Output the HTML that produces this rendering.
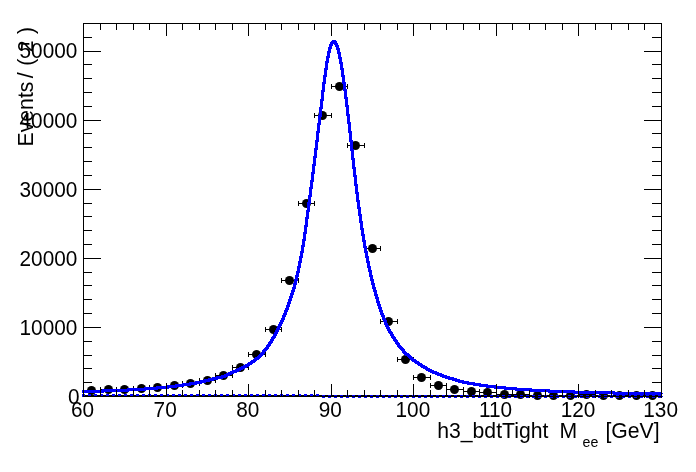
<!DOCTYPE html>
<html lang="en"><head><meta charset="utf-8"><title>h3_bdtTight Mee fit</title>
<style>html,body{margin:0;padding:0;background:#fff;}body{width:696px;height:472px;overflow:hidden;}svg{display:block;}</style>
</head><body>
<svg width="696" height="472" viewBox="0 0 696 472">
<rect width="696" height="472" fill="#fff"/>
<path d="M83.0,395.5H662.0" stroke="#000" stroke-width="1" fill="none" shape-rendering="crispEdges"/>
<g stroke="#000" stroke-width="1" shape-rendering="crispEdges" fill="none"><path d="M83.5,390.5H100.5M83.5,388.0V393.0M100.5,388.0V393.0"/><path d="M100.5,389.5H116.5M100.5,387.0V392.0M116.5,387.0V392.0"/><path d="M116.5,389.5H133.5M116.5,387.0V392.0M133.5,387.0V392.0"/><path d="M133.5,388.5H149.5M133.5,386.0V391.0M149.5,386.0V391.0"/><path d="M149.5,387.5H166.5M149.5,385.0V390.0M166.5,385.0V390.0"/><path d="M166.5,385.5H182.5M166.5,383.0V388.0M182.5,383.0V388.0"/><path d="M182.5,383.5H199.5M182.5,381.0V386.0M199.5,381.0V386.0"/><path d="M199.5,380.5H215.5M199.5,378.0V383.0M215.5,378.0V383.0"/><path d="M215.5,375.5H232.5M215.5,373.0V378.0M232.5,373.0V378.0"/><path d="M232.5,367.5H248.5M232.5,365.0V370.0M248.5,365.0V370.0"/><path d="M248.5,354.5H265.5M248.5,352.0V357.0M265.5,352.0V357.0"/><path d="M265.5,329.5H281.5M265.5,327.0V332.0M281.5,327.0V332.0"/><path d="M281.5,280.5H298.5M281.5,278.0V283.0M298.5,278.0V283.0"/><path d="M298.5,203.5H314.5M298.5,201.0V206.0M314.5,201.0V206.0"/><path d="M314.5,115.5H331.5M314.5,113.0V118.0M331.5,113.0V118.0"/><path d="M331.5,86.5H347.5M331.5,84.0V89.0M347.5,84.0V89.0"/><path d="M347.5,145.5H364.5M347.5,143.0V148.0M364.5,143.0V148.0"/><path d="M364.5,248.5H380.5M364.5,246.0V251.0M380.5,246.0V251.0"/><path d="M380.5,321.5H397.5M380.5,319.0V324.0M397.5,319.0V324.0"/><path d="M397.5,359.5H413.5M397.5,357.0V362.0M413.5,357.0V362.0"/><path d="M413.5,377.5H430.5M413.5,375.0V380.0M430.5,375.0V380.0"/><path d="M430.5,385.5H446.5M430.5,383.0V388.0M446.5,383.0V388.0"/><path d="M446.5,389.5H463.5M446.5,387.0V392.0M463.5,387.0V392.0"/><path d="M463.5,391.5H479.5M463.5,389.0V394.0M479.5,389.0V394.0"/><path d="M479.5,392.5H496.5M479.5,390.0V395.0M496.5,390.0V395.0"/><path d="M496.5,394.5H512.5M496.5,392.0V397.0M512.5,392.0V397.0"/><path d="M512.5,394.5H529.5M512.5,392.0V397.0M529.5,392.0V397.0"/><path d="M529.5,395.5H545.5M529.5,393.0V398.0M545.5,393.0V398.0"/><path d="M545.5,395.5H562.5M545.5,393.0V398.0M562.5,393.0V398.0"/><path d="M562.5,395.5H578.5M562.5,393.0V398.0M578.5,393.0V398.0"/><path d="M578.5,394.5H595.5M578.5,392.0V397.0M595.5,392.0V397.0"/><path d="M595.5,395.5H611.5M595.5,393.0V398.0M611.5,393.0V398.0"/><path d="M611.5,395.5H628.5M611.5,393.0V398.0M628.5,393.0V398.0"/><path d="M628.5,395.5H644.5M628.5,393.0V398.0M644.5,393.0V398.0"/><path d="M644.5,395.5H661.5M644.5,393.0V398.0M661.5,393.0V398.0"/></g>
<g fill="#000"><circle cx="91.5" cy="390.5" r="4.5"/><circle cx="108.5" cy="389.5" r="4.5"/><circle cx="124.5" cy="389.5" r="4.5"/><circle cx="141.5" cy="388.5" r="4.5"/><circle cx="157.5" cy="387.5" r="4.5"/><circle cx="174.5" cy="385.5" r="4.5"/><circle cx="190.5" cy="383.5" r="4.5"/><circle cx="207.5" cy="380.5" r="4.5"/><circle cx="223.5" cy="375.5" r="4.5"/><circle cx="240.5" cy="367.5" r="4.5"/><circle cx="256.5" cy="354.5" r="4.5"/><circle cx="273.5" cy="329.5" r="4.5"/><circle cx="289.5" cy="280.5" r="4.5"/><circle cx="306.5" cy="203.5" r="4.5"/><circle cx="322.5" cy="115.5" r="4.5"/><circle cx="339.5" cy="86.5" r="4.5"/><circle cx="355.5" cy="145.5" r="4.5"/><circle cx="372.5" cy="248.5" r="4.5"/><circle cx="388.5" cy="321.5" r="4.5"/><circle cx="405.5" cy="359.5" r="4.5"/><circle cx="421.5" cy="377.5" r="4.5"/><circle cx="438.5" cy="385.5" r="4.5"/><circle cx="454.5" cy="389.5" r="4.5"/><circle cx="471.5" cy="391.5" r="4.5"/><circle cx="487.5" cy="392.5" r="4.5"/><circle cx="504.5" cy="394.5" r="4.5"/><circle cx="520.5" cy="394.5" r="4.5"/><circle cx="537.5" cy="395.5" r="4.5"/><circle cx="553.5" cy="395.5" r="4.5"/><circle cx="570.5" cy="395.5" r="4.5"/><circle cx="586.5" cy="394.5" r="4.5"/><circle cx="603.5" cy="395.5" r="4.5"/><circle cx="619.5" cy="395.5" r="4.5"/><circle cx="636.5" cy="395.5" r="4.5"/><circle cx="652.5" cy="395.5" r="4.5"/></g>
<path d="M82,394h3v3h-3zM88,394h3v3h-3zM94,394h3v3h-3zM100,394h3v3h-3zM106,394h3v3h-3zM112,394h3v3h-3zM118,394h3v3h-3zM124,394h3v3h-3zM130,394h3v3h-3zM136,394h3v3h-3zM142,394h3v3h-3zM148,394h3v3h-3zM154,394h3v3h-3zM160,394h3v3h-3zM166,394h3v3h-3zM172,394h3v3h-3zM178,394h3v3h-3zM184,394h3v3h-3zM190,394h3v3h-3zM196,394h3v3h-3zM202,394h3v3h-3zM208,394h3v3h-3zM214,394h3v3h-3zM220,394h3v3h-3zM226,394h3v3h-3zM232,394h3v3h-3zM238,394h3v3h-3zM244,394h3v3h-3zM250,394h3v3h-3zM256,394h3v3h-3zM262,394h3v3h-3zM268,394h3v3h-3zM274,394h3v3h-3zM280,394h3v3h-3zM286,394h3v3h-3zM292,394h3v3h-3zM298,394h3v3h-3zM304,394h3v3h-3zM310,394h3v3h-3zM316,394h3v3h-3zM322,395h3v3h-3zM328,395h3v3h-3zM334,395h3v3h-3zM340,395h3v3h-3zM346,395h3v3h-3zM352,395h3v3h-3zM358,395h3v3h-3zM364,395h3v3h-3zM370,395h3v3h-3zM376,395h3v3h-3zM382,395h3v3h-3zM388,395h3v3h-3zM394,395h3v3h-3zM400,395h3v3h-3zM406,395h3v3h-3zM412,395h3v3h-3zM418,395h3v3h-3zM424,395h3v3h-3zM430,395h3v3h-3zM436,395h3v3h-3zM442,395h3v3h-3zM448,395h3v3h-3zM454,395h3v3h-3zM460,395h3v3h-3zM466,395h3v3h-3zM472,395h3v3h-3zM478,395h3v3h-3zM484,395h3v3h-3zM490,395h3v3h-3zM496,395h3v3h-3zM502,395h3v3h-3zM508,395h3v3h-3zM514,395h3v3h-3zM520,395h3v3h-3zM526,395h3v3h-3zM532,395h3v3h-3zM538,395h3v3h-3zM544,395h3v3h-3zM550,395h3v3h-3zM556,395h3v3h-3zM562,395h3v3h-3zM568,395h3v3h-3zM574,395h3v3h-3zM580,395h3v3h-3zM586,395h3v3h-3zM592,395h3v3h-3zM598,395h3v3h-3zM604,395h3v3h-3zM610,395h3v3h-3zM616,395h3v3h-3zM622,395h3v3h-3zM628,395h3v3h-3zM634,395h3v3h-3zM640,395h3v3h-3zM646,395h3v3h-3zM652,395h3v3h-3zM658,395h3v3h-3zM662,396h1v1h-1z" fill="#0000ff" shape-rendering="crispEdges"/>
<path d="M82,390h1v3h-1zM83,390h1v3h-1zM84,390h1v3h-1zM85,390h1v3h-1zM86,390h1v3h-1zM87,390h1v3h-1zM88,390h1v3h-1zM89,390h1v3h-1zM90,390h1v3h-1zM91,390h1v3h-1zM92,390h1v3h-1zM93,390h1v3h-1zM94,390h1v3h-1zM95,390h1v3h-1zM96,390h1v3h-1zM97,390h1v3h-1zM98,390h1v3h-1zM99,390h1v3h-1zM100,390h1v3h-1zM101,390h1v3h-1zM102,389h1v4h-1zM103,389h1v4h-1zM104,389h1v3h-1zM105,389h1v3h-1zM106,389h1v3h-1zM107,389h1v3h-1zM108,389h1v3h-1zM109,389h1v3h-1zM110,389h1v3h-1zM111,389h1v3h-1zM112,389h1v3h-1zM113,389h1v3h-1zM114,389h1v3h-1zM115,389h1v3h-1zM116,389h1v3h-1zM117,389h1v3h-1zM118,389h1v3h-1zM119,389h1v3h-1zM120,389h1v3h-1zM121,389h1v3h-1zM122,389h1v3h-1zM123,389h1v3h-1zM124,389h1v3h-1zM125,389h1v3h-1zM126,389h1v3h-1zM127,388h1v4h-1zM128,388h1v4h-1zM129,388h1v3h-1zM130,388h1v3h-1zM131,388h1v3h-1zM132,388h1v3h-1zM133,388h1v3h-1zM134,388h1v3h-1zM135,388h1v3h-1zM136,388h1v3h-1zM137,388h1v3h-1zM138,388h1v3h-1zM139,388h1v3h-1zM140,388h1v3h-1zM141,388h1v3h-1zM142,388h1v3h-1zM143,388h1v3h-1zM144,387h1v4h-1zM145,387h1v4h-1zM146,387h1v3h-1zM147,387h1v3h-1zM148,387h1v3h-1zM149,387h1v3h-1zM150,387h1v3h-1zM151,387h1v3h-1zM152,387h1v3h-1zM153,387h1v3h-1zM154,387h1v3h-1zM155,387h1v3h-1zM156,386h1v4h-1zM157,386h1v4h-1zM158,386h1v3h-1zM159,386h1v3h-1zM160,386h1v3h-1zM161,386h1v3h-1zM162,386h1v3h-1zM163,386h1v3h-1zM164,386h1v3h-1zM165,386h1v3h-1zM166,386h1v3h-1zM167,385h1v4h-1zM168,385h1v4h-1zM169,385h1v3h-1zM170,385h1v3h-1zM171,385h1v3h-1zM172,385h1v3h-1zM173,385h1v3h-1zM174,385h1v3h-1zM175,384h1v4h-1zM176,384h1v4h-1zM177,384h1v3h-1zM178,384h1v3h-1zM179,384h1v3h-1zM180,384h1v3h-1zM181,384h1v3h-1zM182,383h1v4h-1zM183,383h1v4h-1zM184,383h1v3h-1zM185,383h1v3h-1zM186,383h1v3h-1zM187,383h1v3h-1zM188,383h1v3h-1zM189,382h1v4h-1zM190,382h1v4h-1zM191,382h1v3h-1zM192,382h1v3h-1zM193,382h1v3h-1zM194,382h1v3h-1zM195,381h1v4h-1zM196,381h1v4h-1zM197,381h1v3h-1zM198,381h1v3h-1zM199,381h1v3h-1zM200,380h1v4h-1zM201,380h1v4h-1zM202,380h1v3h-1zM203,380h1v3h-1zM204,379h1v4h-1zM205,379h1v4h-1zM206,379h1v3h-1zM207,379h1v3h-1zM208,378h1v4h-1zM209,378h1v4h-1zM210,378h1v3h-1zM211,378h1v3h-1zM212,377h1v4h-1zM213,377h1v4h-1zM214,377h1v3h-1zM215,377h1v3h-1zM216,376h1v4h-1zM217,376h1v4h-1zM218,376h1v3h-1zM219,376h1v3h-1zM220,376h1v3h-1zM221,375h1v4h-1zM222,375h1v4h-1zM223,375h1v3h-1zM224,374h1v4h-1zM225,374h1v4h-1zM226,373h1v4h-1zM227,373h1v4h-1zM228,372h1v4h-1zM229,372h1v4h-1zM230,371h1v4h-1zM231,371h1v4h-1zM232,370h1v4h-1zM233,370h1v4h-1zM234,370h1v3h-1zM235,369h1v4h-1zM236,369h1v4h-1zM237,368h1v4h-1zM238,368h1v4h-1zM239,367h1v4h-1zM240,367h1v4h-1zM241,366h1v4h-1zM242,366h1v4h-1zM243,365h1v4h-1zM244,365h1v4h-1zM245,364h1v4h-1zM246,364h1v4h-1zM247,363h1v4h-1zM248,362h1v5h-1zM249,362h1v4h-1zM250,361h1v4h-1zM251,360h1v5h-1zM252,360h1v4h-1zM253,359h1v4h-1zM254,358h1v5h-1zM255,357h1v5h-1zM256,357h1v4h-1zM257,356h1v4h-1zM258,355h1v5h-1zM259,354h1v5h-1zM260,353h1v5h-1zM261,352h1v5h-1zM262,350h1v6h-1zM263,349h1v6h-1zM264,348h1v6h-1zM265,347h1v5h-1zM266,345h1v6h-1zM267,344h1v6h-1zM268,342h1v7h-1zM269,341h1v6h-1zM270,339h1v7h-1zM271,337h1v7h-1zM272,336h1v7h-1zM273,334h1v7h-1zM274,332h1v7h-1zM275,330h1v8h-1zM276,328h1v8h-1zM277,326h1v8h-1zM278,324h1v8h-1zM279,322h1v8h-1zM280,320h1v8h-1zM281,318h1v8h-1zM282,315h1v9h-1zM283,313h1v9h-1zM284,310h1v10h-1zM285,308h1v9h-1zM286,305h1v10h-1zM287,302h1v10h-1zM288,299h1v11h-1zM289,296h1v11h-1zM290,293h1v11h-1zM291,290h1v11h-1zM292,287h1v11h-1zM293,283h1v12h-1zM294,279h1v13h-1zM295,275h1v14h-1zM296,271h1v14h-1zM297,266h1v15h-1zM298,261h1v16h-1zM299,256h1v17h-1zM300,251h1v17h-1zM301,245h1v18h-1zM302,239h1v19h-1zM303,232h1v21h-1zM304,225h1v22h-1zM305,217h1v24h-1zM306,210h1v24h-1zM307,202h1v25h-1zM308,195h1v24h-1zM309,187h1v25h-1zM310,180h1v24h-1zM311,172h1v25h-1zM312,164h1v25h-1zM313,156h1v26h-1zM314,148h1v26h-1zM315,140h1v26h-1zM316,131h1v27h-1zM317,123h1v27h-1zM318,115h1v27h-1zM319,107h1v26h-1zM320,99h1v26h-1zM321,90h1v27h-1zM322,82h1v27h-1zM323,75h1v26h-1zM324,68h1v24h-1zM325,61h1v23h-1zM326,56h1v21h-1zM327,51h1v19h-1zM328,47h1v16h-1zM329,44h1v14h-1zM330,42h1v11h-1zM331,41h1v8h-1zM332,40h1v6h-1zM333,40h1v4h-1zM334,40h1v5h-1zM335,40h1v7h-1zM336,41h1v9h-1zM337,43h1v11h-1zM338,45h1v14h-1zM339,48h1v16h-1zM340,52h1v18h-1zM341,57h1v20h-1zM342,62h1v22h-1zM343,68h1v23h-1zM344,75h1v24h-1zM345,82h1v25h-1zM346,89h1v27h-1zM347,97h1v27h-1zM348,105h1v28h-1zM349,114h1v28h-1zM350,122h1v29h-1zM351,131h1v29h-1zM352,140h1v29h-1zM353,149h1v28h-1zM354,158h1v28h-1zM355,167h1v27h-1zM356,175h1v27h-1zM357,184h1v25h-1zM358,192h1v24h-1zM359,200h1v23h-1zM360,207h1v23h-1zM361,214h1v22h-1zM362,221h1v21h-1zM363,228h1v20h-1zM364,234h1v19h-1zM365,240h1v18h-1zM366,246h1v17h-1zM367,251h1v17h-1zM368,256h1v16h-1zM369,261h1v16h-1zM370,266h1v15h-1zM371,270h1v15h-1zM372,275h1v14h-1zM373,279h1v13h-1zM374,283h1v13h-1zM375,287h1v12h-1zM376,290h1v13h-1zM377,294h1v12h-1zM378,297h1v12h-1zM379,301h1v11h-1zM380,304h1v11h-1zM381,307h1v10h-1zM382,310h1v10h-1zM383,313h1v9h-1zM384,315h1v10h-1zM385,318h1v9h-1zM386,320h1v9h-1zM387,323h1v8h-1zM388,325h1v8h-1zM389,327h1v7h-1zM390,329h1v7h-1zM391,331h1v7h-1zM392,332h1v7h-1zM393,334h1v7h-1zM394,336h1v6h-1zM395,337h1v7h-1zM396,339h1v6h-1zM397,340h1v7h-1zM398,342h1v6h-1zM399,343h1v6h-1zM400,345h1v5h-1zM401,346h1v5h-1zM402,347h1v6h-1zM403,348h1v6h-1zM404,349h1v6h-1zM405,351h1v5h-1zM406,352h1v4h-1zM407,353h1v4h-1zM408,353h1v5h-1zM409,354h1v5h-1zM410,355h1v5h-1zM411,356h1v5h-1zM412,357h1v5h-1zM413,358h1v4h-1zM414,359h1v4h-1zM415,359h1v5h-1zM416,360h1v4h-1zM417,361h1v4h-1zM418,361h1v5h-1zM419,362h1v4h-1zM420,363h1v4h-1zM421,363h1v5h-1zM422,364h1v4h-1zM423,365h1v4h-1zM424,365h1v4h-1zM425,366h1v4h-1zM426,366h1v5h-1zM427,367h1v4h-1zM428,368h1v4h-1zM429,368h1v4h-1zM430,369h1v4h-1zM431,369h1v4h-1zM432,370h1v4h-1zM433,370h1v4h-1zM434,371h1v3h-1zM435,371h1v4h-1zM436,371h1v4h-1zM437,372h1v4h-1zM438,372h1v4h-1zM439,373h1v3h-1zM440,373h1v4h-1zM441,373h1v4h-1zM442,374h1v4h-1zM443,374h1v4h-1zM444,375h1v3h-1zM445,375h1v4h-1zM446,375h1v4h-1zM447,376h1v3h-1zM448,376h1v4h-1zM449,376h1v4h-1zM450,377h1v3h-1zM451,377h1v3h-1zM452,377h1v4h-1zM453,377h1v4h-1zM454,378h1v3h-1zM455,378h1v4h-1zM456,378h1v4h-1zM457,379h1v3h-1zM458,379h1v4h-1zM459,379h1v4h-1zM460,380h1v3h-1zM461,380h1v3h-1zM462,380h1v4h-1zM463,380h1v4h-1zM464,381h1v3h-1zM465,381h1v3h-1zM466,381h1v3h-1zM467,381h1v4h-1zM468,381h1v4h-1zM469,382h1v3h-1zM470,382h1v3h-1zM471,382h1v3h-1zM472,382h1v3h-1zM473,382h1v4h-1zM474,382h1v4h-1zM475,383h1v3h-1zM476,383h1v3h-1zM477,383h1v3h-1zM478,383h1v3h-1zM479,383h1v4h-1zM480,383h1v4h-1zM481,384h1v3h-1zM482,384h1v3h-1zM483,384h1v3h-1zM484,384h1v3h-1zM485,384h1v3h-1zM486,384h1v4h-1zM487,384h1v4h-1zM488,385h1v3h-1zM489,385h1v3h-1zM490,385h1v3h-1zM491,385h1v3h-1zM492,385h1v3h-1zM493,385h1v3h-1zM494,385h1v4h-1zM495,385h1v4h-1zM496,386h1v3h-1zM497,386h1v3h-1zM498,386h1v3h-1zM499,386h1v3h-1zM500,386h1v3h-1zM501,386h1v3h-1zM502,386h1v3h-1zM503,386h1v3h-1zM504,386h1v4h-1zM505,386h1v4h-1zM506,387h1v3h-1zM507,387h1v3h-1zM508,387h1v3h-1zM509,387h1v3h-1zM510,387h1v3h-1zM511,387h1v3h-1zM512,387h1v3h-1zM513,387h1v3h-1zM514,387h1v3h-1zM515,387h1v4h-1zM516,387h1v4h-1zM517,388h1v3h-1zM518,388h1v3h-1zM519,388h1v3h-1zM520,388h1v3h-1zM521,388h1v3h-1zM522,388h1v3h-1zM523,388h1v3h-1zM524,388h1v3h-1zM525,388h1v3h-1zM526,388h1v3h-1zM527,388h1v3h-1zM528,388h1v3h-1zM529,388h1v3h-1zM530,388h1v4h-1zM531,388h1v4h-1zM532,389h1v3h-1zM533,389h1v3h-1zM534,389h1v3h-1zM535,389h1v3h-1zM536,389h1v3h-1zM537,389h1v3h-1zM538,389h1v3h-1zM539,389h1v3h-1zM540,389h1v3h-1zM541,389h1v3h-1zM542,389h1v3h-1zM543,389h1v3h-1zM544,389h1v3h-1zM545,389h1v3h-1zM546,389h1v3h-1zM547,389h1v3h-1zM548,389h1v4h-1zM549,389h1v4h-1zM550,390h1v3h-1zM551,390h1v3h-1zM552,390h1v3h-1zM553,390h1v3h-1zM554,390h1v3h-1zM555,390h1v3h-1zM556,390h1v3h-1zM557,390h1v3h-1zM558,390h1v3h-1zM559,390h1v3h-1zM560,390h1v3h-1zM561,390h1v3h-1zM562,390h1v3h-1zM563,390h1v3h-1zM564,390h1v3h-1zM565,390h1v3h-1zM566,390h1v3h-1zM567,390h1v3h-1zM568,390h1v3h-1zM569,390h1v3h-1zM570,390h1v3h-1zM571,390h1v3h-1zM572,390h1v3h-1zM573,390h1v4h-1zM574,390h1v4h-1zM575,391h1v3h-1zM576,391h1v3h-1zM577,391h1v3h-1zM578,391h1v3h-1zM579,391h1v3h-1zM580,391h1v3h-1zM581,391h1v3h-1zM582,391h1v3h-1zM583,391h1v3h-1zM584,391h1v3h-1zM585,391h1v3h-1zM586,391h1v3h-1zM587,391h1v3h-1zM588,391h1v3h-1zM589,391h1v3h-1zM590,391h1v3h-1zM591,391h1v3h-1zM592,391h1v3h-1zM593,391h1v3h-1zM594,391h1v3h-1zM595,391h1v3h-1zM596,391h1v3h-1zM597,391h1v3h-1zM598,391h1v3h-1zM599,391h1v3h-1zM600,391h1v3h-1zM601,391h1v3h-1zM602,391h1v3h-1zM603,391h1v3h-1zM604,391h1v3h-1zM605,391h1v3h-1zM606,391h1v3h-1zM607,391h1v3h-1zM608,391h1v3h-1zM609,391h1v3h-1zM610,391h1v3h-1zM611,391h1v3h-1zM612,391h1v3h-1zM613,391h1v4h-1zM614,391h1v4h-1zM615,392h1v3h-1zM616,392h1v3h-1zM617,392h1v3h-1zM618,392h1v3h-1zM619,392h1v3h-1zM620,392h1v3h-1zM621,392h1v3h-1zM622,392h1v3h-1zM623,392h1v3h-1zM624,392h1v3h-1zM625,392h1v3h-1zM626,392h1v3h-1zM627,392h1v3h-1zM628,392h1v3h-1zM629,392h1v3h-1zM630,392h1v3h-1zM631,392h1v3h-1zM632,392h1v3h-1zM633,392h1v3h-1zM634,392h1v3h-1zM635,392h1v3h-1zM636,392h1v3h-1zM637,392h1v3h-1zM638,392h1v3h-1zM639,392h1v3h-1zM640,392h1v3h-1zM641,392h1v3h-1zM642,392h1v3h-1zM643,392h1v3h-1zM644,392h1v3h-1zM645,392h1v3h-1zM646,392h1v3h-1zM647,392h1v3h-1zM648,392h1v3h-1zM649,392h1v3h-1zM650,392h1v3h-1zM651,392h1v3h-1zM652,392h1v3h-1zM653,392h1v3h-1zM654,392h1v3h-1zM655,392h1v3h-1zM656,392h1v3h-1zM657,392h1v3h-1zM658,392h1v3h-1zM659,392h1v3h-1zM660,392h1v3h-1zM661,392h1v3h-1zM662,393h1v1h-1z" fill="#0000ff" stroke="none" shape-rendering="crispEdges"/>
<g stroke="#000" stroke-width="1" fill="none" shape-rendering="crispEdges"><rect x="83.5" y="23.5" width="578.0" height="373.0"/><path d="M83.5,396.5v-12.5M83.5,23.5v12.5M100.5,396.5v-6.5M100.5,23.5v6.5M116.5,396.5v-6.5M116.5,23.5v6.5M133.5,396.5v-6.5M133.5,23.5v6.5M149.5,396.5v-6.5M149.5,23.5v6.5M166.5,396.5v-12.5M166.5,23.5v12.5M182.5,396.5v-6.5M182.5,23.5v6.5M199.5,396.5v-6.5M199.5,23.5v6.5M215.5,396.5v-6.5M215.5,23.5v6.5M232.5,396.5v-6.5M232.5,23.5v6.5M248.5,396.5v-12.5M248.5,23.5v12.5M265.5,396.5v-6.5M265.5,23.5v6.5M281.5,396.5v-6.5M281.5,23.5v6.5M298.5,396.5v-6.5M298.5,23.5v6.5M314.5,396.5v-6.5M314.5,23.5v6.5M331.5,396.5v-12.5M331.5,23.5v12.5M347.5,396.5v-6.5M347.5,23.5v6.5M364.5,396.5v-6.5M364.5,23.5v6.5M380.5,396.5v-6.5M380.5,23.5v6.5M397.5,396.5v-6.5M397.5,23.5v6.5M413.5,396.5v-12.5M413.5,23.5v12.5M430.5,396.5v-6.5M430.5,23.5v6.5M446.5,396.5v-6.5M446.5,23.5v6.5M463.5,396.5v-6.5M463.5,23.5v6.5M479.5,396.5v-6.5M479.5,23.5v6.5M496.5,396.5v-12.5M496.5,23.5v12.5M512.5,396.5v-6.5M512.5,23.5v6.5M529.5,396.5v-6.5M529.5,23.5v6.5M545.5,396.5v-6.5M545.5,23.5v6.5M562.5,396.5v-6.5M562.5,23.5v6.5M578.5,396.5v-12.5M578.5,23.5v12.5M595.5,396.5v-6.5M595.5,23.5v6.5M611.5,396.5v-6.5M611.5,23.5v6.5M628.5,396.5v-6.5M628.5,23.5v6.5M644.5,396.5v-6.5M644.5,23.5v6.5M661.5,396.5v-12.5M661.5,23.5v12.5M83.5,396.5h17.5M661.5,396.5h-17.5M83.5,382.5h8.5M661.5,382.5h-9.5M83.5,368.5h8.5M661.5,368.5h-9.5M83.5,355.5h8.5M661.5,355.5h-9.5M83.5,341.5h8.5M661.5,341.5h-9.5M83.5,327.5h17.5M661.5,327.5h-17.5M83.5,313.5h8.5M661.5,313.5h-9.5M83.5,299.5h8.5M661.5,299.5h-9.5M83.5,285.5h8.5M661.5,285.5h-9.5M83.5,272.5h8.5M661.5,272.5h-9.5M83.5,258.5h17.5M661.5,258.5h-17.5M83.5,244.5h8.5M661.5,244.5h-9.5M83.5,230.5h8.5M661.5,230.5h-9.5M83.5,216.5h8.5M661.5,216.5h-9.5M83.5,203.5h8.5M661.5,203.5h-9.5M83.5,189.5h17.5M661.5,189.5h-17.5M83.5,175.5h8.5M661.5,175.5h-9.5M83.5,161.5h8.5M661.5,161.5h-9.5M83.5,147.5h8.5M661.5,147.5h-9.5M83.5,133.5h8.5M661.5,133.5h-9.5M83.5,120.5h17.5M661.5,120.5h-17.5M83.5,106.5h8.5M661.5,106.5h-9.5M83.5,92.5h8.5M661.5,92.5h-9.5M83.5,78.5h8.5M661.5,78.5h-9.5M83.5,64.5h8.5M661.5,64.5h-9.5M83.5,51.5h17.5M661.5,51.5h-17.5M83.5,37.5h8.5M661.5,37.5h-9.5"/></g>
<g font-family="'Liberation Sans', sans-serif" font-size="22" fill="#000"><text transform="translate(82.60,416.90) scale(0.945,1)" text-anchor="middle" xml:space="preserve">60</text><text transform="translate(165.17,416.90) scale(0.945,1)" text-anchor="middle" xml:space="preserve">70</text><text transform="translate(247.74,416.90) scale(0.945,1)" text-anchor="middle" xml:space="preserve">80</text><text transform="translate(330.31,416.90) scale(0.945,1)" text-anchor="middle" xml:space="preserve">90</text><text transform="translate(412.88,416.90) scale(0.945,1)" text-anchor="middle" xml:space="preserve">100</text><text transform="translate(495.45,416.90) scale(0.945,1)" text-anchor="middle" xml:space="preserve">110</text><text transform="translate(578.03,416.90) scale(0.945,1)" text-anchor="middle" xml:space="preserve">120</text><text transform="translate(660.60,416.90) scale(0.945,1)" text-anchor="middle" xml:space="preserve">130</text><text transform="translate(79.60,403.50) scale(0.945,1)" text-anchor="end" xml:space="preserve">0</text><text transform="translate(77.30,334.80) scale(0.945,1)" text-anchor="end" xml:space="preserve">10000</text><text transform="translate(77.30,265.70) scale(0.945,1)" text-anchor="end" xml:space="preserve">20000</text><text transform="translate(77.30,196.60) scale(0.945,1)" text-anchor="end" xml:space="preserve">30000</text><text transform="translate(77.30,127.50) scale(0.945,1)" text-anchor="end" xml:space="preserve">40000</text><text transform="translate(77.30,58.40) scale(0.945,1)" text-anchor="end" xml:space="preserve">50000</text><text transform="translate(437.20,437.80) scale(0.964,1)" xml:space="preserve">h3_bdtTight</text><text transform="translate(559.60,437.80) scale(0.964,1)" xml:space="preserve">M</text><text transform="translate(582.60,447.00) scale(1.0,1)" font-size="14.2" xml:space="preserve">ee</text><text transform="translate(605.40,437.80) scale(0.964,1)" xml:space="preserve">[GeV]</text><text transform="translate(33.30,146.40) rotate(-90) scale(0.964,1)" xml:space="preserve">Events</text><text transform="translate(33.30,78.20) rotate(-90) scale(0.964,1)" word-spacing="0.65" xml:space="preserve">/ ( 2 )</text></g>
</svg>
</body></html>
